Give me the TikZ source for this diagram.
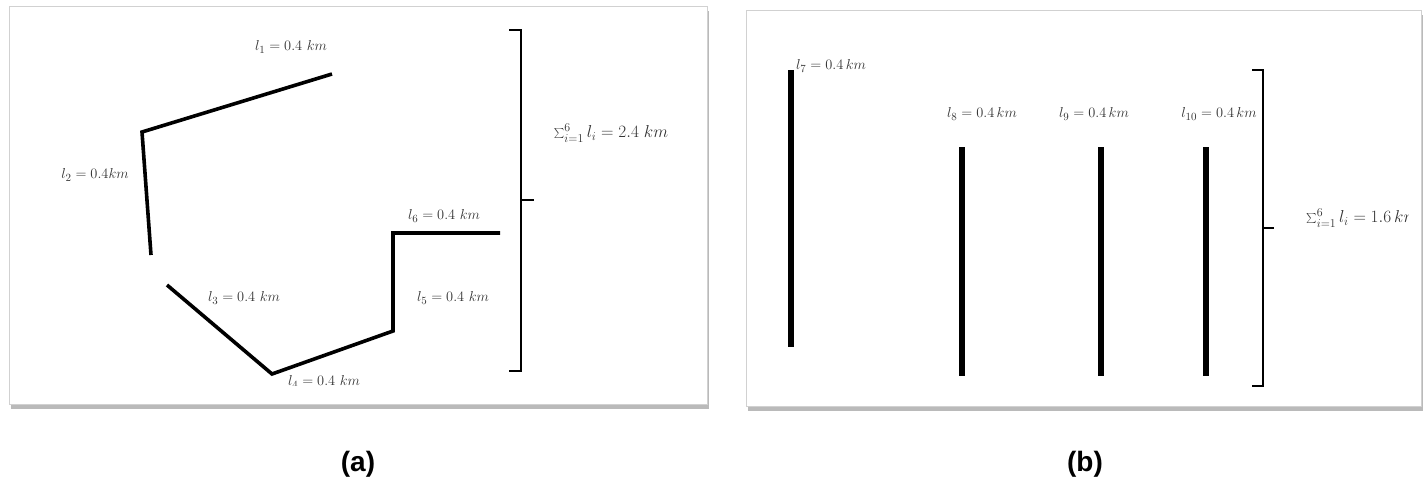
\documentclass[tikz,border=0pt]{standalone}
\usepackage{fontspec}
\newfontfamily\capfont{Liberation Sans}
\usetikzlibrary{shadows}
\begin{document}
\begin{tikzpicture}[x=1pt,y=-1pt,
  panel/.style={draw=black!18,line width=0.8pt,fill=white,
    drop shadow={shadow xshift=2pt,shadow yshift=-5pt,opacity=0.45,fill=black!60}},
  seg/.style={line width=3.6pt,line cap=butt,line join=miter},
  bar/.style={line width=6.5pt},
  brk/.style={line width=2.2pt,line join=miter},
  lab/.style={inner sep=0pt,font=\fontsize{15}{17}\selectfont,text=black!80},
  sumlab/.style={inner sep=0pt,font=\fontsize{16.5}{18}\selectfont,text=black!80},
  captext/.style={inner sep=0pt,font=\capfont\bfseries\fontsize{28}{30}\selectfont}]
\useasboundingbox (0,0) rectangle (1427,482);
\fill[white] (0,0) rectangle (1427,482);
% panels
\path[panel] (9,6) rectangle (707,404);
\path[panel] (746,10) rectangle (1421,406);
% ---------- (a)
\coordinate (a1) at (332,74);
\coordinate (a2) at (142,132);
\coordinate (a3) at (151,255);
\coordinate (a4) at (167,285);
\coordinate (a5) at (272,374);
\coordinate (a6) at (393,331);
\coordinate (a7) at (393,233);
\coordinate (a8) at (500,233);
\draw[seg] (a1) -- (a2) -- (a3);
\draw[seg] (a4) -- (a5) -- (a6) -- (a7) -- (a8);
\node[lab] (t1) at (291,47) {$l_1 = 0.4\ km$};
\node[lab] (t2) at (95,175) {$l_2 = 0.4km$};
\node[lab] (t3) at (244,298) {$l_3 = 0.4\ km$};
\begin{scope}
\clip (200,300) rectangle (460,385);
\node[lab] (t4) at (324,382) {$l_4 = 0.4\ km$};
\end{scope}
\node[lab] (t5) at (453,298) {$l_5 = 0.4\ km$};
\node[lab] (t6) at (444,216) {$l_6 = 0.4\ km$};
\coordinate (ba1) at (509,30);
\coordinate (ba2) at (521,30);
\coordinate (ba3) at (521,371);
\coordinate (ba4) at (509,371);
\coordinate (bam) at (521,200);
\coordinate (bat) at (534,200);
\draw[brk] (ba1) -- (ba2) -- (ba3) -- (ba4);
\draw[brk] (bam) -- (bat);
\node[sumlab] (sa) at (611,133) {$\sum_{i=1}^{6} l_i = 2.4\ km$};
% ---------- (b)
\coordinate (b7t) at (791,70);  \coordinate (b7b) at (791,347);
\coordinate (b8t) at (962,147); \coordinate (b8b) at (962,376);
\coordinate (b9t) at (1101,147); \coordinate (b9b) at (1101,376);
\coordinate (b10t) at (1206,147); \coordinate (b10b) at (1206,376);
\draw[bar] (b7t) -- (b7b);
\draw[bar] (b8t) -- (b8b);
\draw[bar] (b9t) -- (b9b);
\draw[bar] (b10t) -- (b10b);
\node[lab,anchor=west] (t7) at (796,66) {$l_7 = 0.4\,km$};
\node[lab] (t8) at (982,114) {$l_8 = 0.4\,km$};
\node[lab] (t9) at (1094,114) {$l_9 = 0.4\,km$};
\node[lab] (t10) at (1219,114) {$l_{10} = 0.4\,km$};
\coordinate (bb1) at (1252,70);
\coordinate (bb2) at (1263,70);
\coordinate (bb3) at (1263,386);
\coordinate (bb4) at (1252,386);
\coordinate (bbm) at (1263,228);
\coordinate (bbt) at (1274,228);
\draw[brk] (bb1) -- (bb2) -- (bb3) -- (bb4);
\draw[brk] (bbm) -- (bbt);
\begin{scope}
\clip (1290,190) rectangle (1408,250);
\node[sumlab,anchor=west] (sb) at (1306,218) {$\sum_{i=1}^{6} l_i = 1.6\,km$};
\end{scope}
% captions
\node[captext] (ca) at (358,464) {(a)};
\node[captext] (cb) at (1085,464) {(b)};
\end{tikzpicture}
\end{document}
